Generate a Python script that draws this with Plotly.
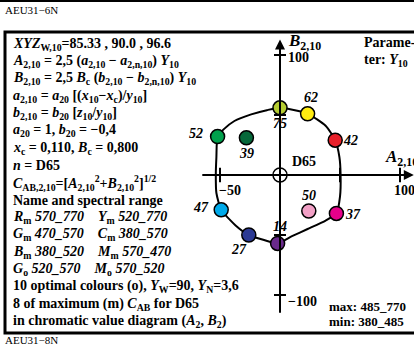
import plotly.graph_objects as go

W, H = 414, 346
# pixel position of the diagram origin and scale (px per unit)
X0, Y0, S = 280, 175, 1.2

# colour samples: (A, B) chromatic values, Y10 labels, fill colours
names = ["75", "62", "42", "52", "39", "47", "27", "14", "50", "37"]
A_vals = [0, 23, 46, -52, -28, -49, -26, -2, 24, 47]
B_vals = [56, 51, 29, 32, 31, -29, -50, -57, -30, -32]
colors = ["#b5cc32", "#ffec10", "#e8202a", "#00a04c", "#06683a",
          "#00aaea", "#2c3a94", "#6a2a8c", "#f2a0c6", "#e6008a"]
# label offsets in A,B units
lab_dA = [0, 3, 13, -18, 0, -17, -8, 2, 0, 14]
lab_dB = [-13, 14, 0, 3, -13, 2, -12, 14, 13, -1]

# optimal colour boundary
curve_A = [-52, -47, -38, -24, -11, 0, 23, 38, 46, 49.5, 50.5, 50, 47,
           38, 23, 10, -2, -14, -26, -37, -49, -53, -53.5, -53, -52]
curve_B = [32, 38, 45, 50.5, 54, 56, 51, 41, 29, 15, 0, -18, -32,
           -38, -45, -51, -57, -54, -50, -42, -29, -15, 0, 15, 32]

ticks_A = [-50, 50, 100]
ticks_B = [-100, -50, 50, 100]

text_lines = [
    "<i>XYZ</i><sub>W,10</sub>=85.33 , 90.0 , 96.6",
    "<i>A</i><sub>2,10</sub> = 2,5 (<i>a</i><sub>2,10</sub> \u2212 <i>a</i><sub>2,n,10</sub>) <i>Y</i><sub>10</sub>",
    "<i>B</i><sub>2,10</sub> = 2,5 <i>B</i><sub>c</sub> (<i>b</i><sub>2,10</sub> \u2212 <i>b</i><sub>2,n,10</sub>) <i>Y</i><sub>10</sub>",
    "<i>a</i><sub>2,10</sub> = <i>a</i><sub>20</sub> [(<i>x</i><sub>10</sub>\u2212<i>x</i><sub>c</sub>)/<i>y</i><sub>10</sub>]",
    "<i>b</i><sub>2,10</sub> = <i>b</i><sub>20</sub> [<i>z</i><sub>10</sub>/<i>y</i><sub>10</sub>]",
    "<i>a</i><sub>20</sub> = 1, <i>b</i><sub>20</sub> = \u22120,4",
    "<i>x</i><sub>c</sub> = 0,110, <i>B</i><sub>c</sub> = 0,800",
    "<i>n</i> = D65",
    "<i>C</i><sub>AB,2,10</sub>=[<i>A</i><sub>2,10</sub><sup>2</sup>+<i>B</i><sub>2,10</sub><sup>2</sup>]<sup>1/2</sup>",
    "Name and spectral range",
    "<i>R</i><sub>m</sub> <i>570_770</i>    <i>Y</i><sub>m</sub> <i>520_770</i>",
    "<i>G</i><sub>m</sub> <i>470_570</i>    <i>C</i><sub>m</sub> <i>380_570</i>",
    "<i>B</i><sub>m</sub> <i>380_520</i>    <i>M</i><sub>m</sub> <i>570_470</i>",
    "<i>G</i><sub>o</sub> <i>520_570</i>    <i>M</i><sub>o</sub> <i>570_520</i>",
    "10 optimal colours (o), <i>Y</i><sub>W</sub>=90, <i>Y</i><sub>N</sub>=3,6",
    "8 of maximum (m) <i>C</i><sub>AB</sub> for D65",
    "in chromatic value diagram (<i>A</i><sub>2</sub>, <i>B</i><sub>2</sub>)",
]

FONT = "Liberation Serif"


def px(x):
    return x / W


def py(y):
    return 1 - y / H


fig = go.Figure()

fig.add_trace(go.Scatter(
    x=curve_A, y=curve_B, mode="lines",
    line=dict(color="black", width=2, shape="spline", smoothing=0.6),
    hoverinfo="skip", showlegend=False
))

fig.add_trace(go.Scatter(
    x=A_vals, y=B_vals, mode="markers",
    marker=dict(color=colors, size=14, line=dict(color="black", width=1.5)),
    hoverinfo="skip", showlegend=False
))

# D65 white point
fig.add_trace(go.Scatter(
    x=[0], y=[0], mode="markers",
    marker=dict(symbol="circle-cross", color="white", size=14,
                line=dict(color="black", width=1.5)),
    hoverinfo="skip", showlegend=False
))

shapes = []
for a in ticks_A:
    shapes.append(dict(type="line", xref="x", yref="y", x0=a, x1=a, y0=-6, y1=6,
                       line=dict(color="black", width=2)))
for b in ticks_B:
    shapes.append(dict(type="line", xref="x", yref="y", x0=-5, x1=5, y0=b, y1=b,
                       line=dict(color="black", width=2)))
# frame and top rule
shapes.append(dict(type="rect", xref="paper", yref="paper",
                   x0=px(5), x1=px(430), y0=py(333), y1=py(32),
                   line=dict(color="black", width=3)))
shapes.append(dict(type="line", xref="paper", yref="paper",
                   x0=0, x1=1, y0=py(1), y1=py(1),
                   line=dict(color="black", width=2)))

annotations = []
# axes with arrowheads
annotations.append(dict(x=0, y=113, ax=0, ay=-116, xref="x", yref="y",
                        axref="x", ayref="y", text="", showarrow=True,
                        arrowhead=2, arrowsize=1, arrowwidth=2, arrowcolor="black"))
annotations.append(dict(x=111.5, y=0, ax=-66, ay=0, xref="x", yref="y",
                        axref="x", ayref="y", text="", showarrow=True,
                        arrowhead=2, arrowsize=1, arrowwidth=2, arrowcolor="black"))

bold = dict(family=FONT, size=14, color="black")

for i, t in enumerate(text_lines):
    annotations.append(dict(x=px(11), y=py(44 + i * 17.35), xref="paper", yref="paper",
                            text="<b>" + t + "</b>", showarrow=False,
                            xanchor="left", yanchor="middle", font=bold))

for n, a, b, da, db in zip(names, A_vals, B_vals, lab_dA, lab_dB):
    annotations.append(dict(x=a + da, y=b + db, xref="x", yref="y",
                            text="<b><i>" + n + "</i></b>", showarrow=False,
                            xanchor="center", yanchor="middle", font=bold))

misc = [
    ("<b>D65</b>", 290, 161, "left", 14),
    ("<b>100</b>", 286, 58, "left", 14),
    ("<b>\u2212100</b>", 286, 301, "left", 14),
    ("<b>100</b>", 392, 190, "left", 14),
    ("<b>\u221250</b>", 217, 190, "left", 14),
    ("<b><i>B</i><sub>2,10</sub></b>", 286, 42, "left", 17),
    ("<b><i>A</i><sub>2,10</sub></b>", 383, 158, "left", 17),
    ("<b>Parame-</b>", 362, 42, "left", 14),
    ("<b>ter: <i>Y</i><sub>10</sub></b>", 362, 60, "left", 14),
    ("<b>max: 485_770</b>", 327, 306, "left", 13),
    ("<b>min: 380_485</b>", 327, 321, "left", 13),
]
for t, x, y, anc, sz in misc:
    annotations.append(dict(x=px(x), y=py(y), xref="paper", yref="paper",
                            text=t, showarrow=False, xanchor=anc, yanchor="middle",
                            font=dict(family=FONT, size=sz, color="black")))

for t, y in [("AEU31\u22126N", 10), ("AEU31\u22128N", 340)]:
    annotations.append(dict(x=px(3), y=py(y), xref="paper", yref="paper",
                            text=t, showarrow=False, xanchor="left", yanchor="middle",
                            font=dict(family=FONT, size=11, color="black")))

fig.update_layout(
    width=W, height=H,
    margin=dict(l=0, r=0, t=0, b=0),
    paper_bgcolor="white", plot_bgcolor="white",
    xaxis=dict(range=[-X0 / S, (W - X0) / S], visible=False, fixedrange=True),
    yaxis=dict(range=[-(H - Y0) / S, Y0 / S], visible=False, fixedrange=True),
    shapes=shapes, annotations=annotations,
    showlegend=False,
)

fig.write_html("out.html", config={"displayModeBar": False},
               post_script="document.body.style.margin='0';")
